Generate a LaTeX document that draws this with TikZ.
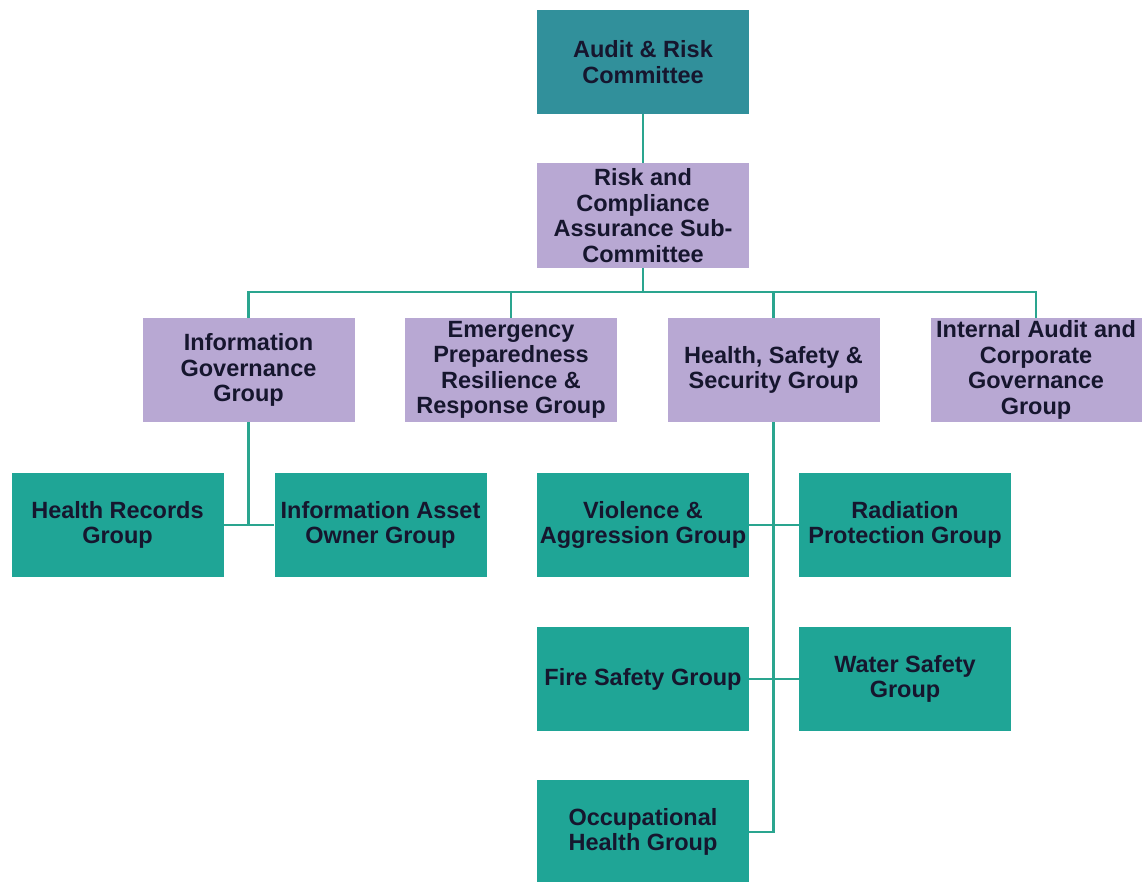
\documentclass[tikz,border=0pt]{standalone}
\usepackage{fontspec}
\setmainfont{Liberation Sans}
\definecolor{topteal}{HTML}{31909B}
\definecolor{boxteal}{HTML}{1FA596}
\definecolor{lav}{HTML}{B8A8D3}
\definecolor{linec}{HTML}{2AA58F}
\definecolor{txt}{HTML}{16162E}
\tikzset{
  box/.style={rectangle, inner sep=0pt, minimum width=212pt, minimum height=104pt,
    align=center, text=txt, font=\fontsize{23.5}{25.5}\selectfont\bfseries},
  topbox/.style={box, fill=topteal},
  lavbox/.style={box, fill=lav},
  tealbox/.style={box, fill=boxteal},
  conn/.style={draw=linec, line width=2.6pt}
}
\begin{document}
\begin{tikzpicture}[x=1pt,y=-1pt]
\useasboundingbox (0,0) rectangle (1142,882);
\node[topbox] (audit) at (643,62) {Audit \& Risk\\Committee};
\node[lavbox, minimum height=105pt] (rcas) at (643,215.5) {Risk and\\Compliance\\Assurance Sub-\\Committee};
\node[lavbox] (igg) at (248.5,370) {Information\\Governance\\Group};
\node[lavbox] (epr) at (511,370) {Emergency\\Preparedness\\Resilience \&\\Response Group};
\node[lavbox] (hss) at (773.5,370) {Health, Safety \&\\Security Group};
\node[lavbox, minimum width=211pt] (iacg) at (1036,370) {Internal Audit and\\Corporate\\Governance\\Group};
\node[tealbox] (hrg) at (117.5,525) {Health Records\\Group};
\node[tealbox] (iao) at (380.5,525) {Information Asset\\Owner Group};
\node[tealbox] (vag) at (643,525) {Violence \&\\Aggression Group};
\node[tealbox] (rpg) at (905,525) {Radiation\\Protection Group};
\node[tealbox] (fsg) at (643,679) {Fire Safety Group};
\node[tealbox] (wsg) at (905,679) {Water Safety\\Group};
\node[tealbox] (ohg) at (643,832) {Occupational\\Health Group};
\coordinate (b0) at (643,292);
\draw[conn] (audit.south) -- (rcas.north);
\draw[conn] (rcas.south) -- (b0);
\draw[conn] (igg.north) |- (b0) -| (iacg.north);
\draw[conn] (epr.north) -- (epr.north |- b0);
\draw[conn] (hss.north) -- (hss.north |- b0);
\draw[conn] (igg.south) -- (igg.south |- hrg.east);
\draw[conn] (hrg.east) -- (iao.west);
\draw[conn] (hss.south) |- (ohg.east);
\draw[conn] (vag.east) -- (rpg.west);
\draw[conn] (fsg.east) -- (wsg.west);
\end{tikzpicture}
\end{document}
